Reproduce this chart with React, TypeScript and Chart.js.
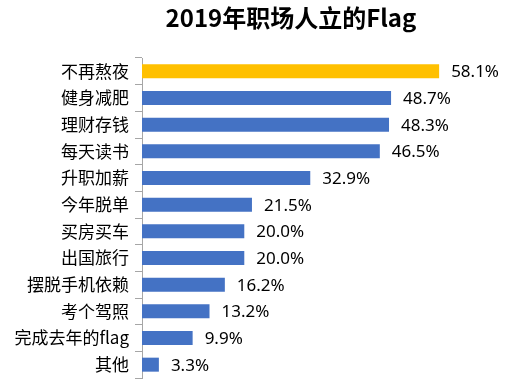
import React, { useEffect, useRef } from "react";
import { Chart, registerables } from "chart.js";

Chart.register(...registerables);

const TITLE = "2019年职场人立的Flag";
const categories = [
  "不再熬夜",
  "健身减肥",
  "理财存钱",
  "每天读书",
  "升职加薪",
  "今年脱单",
  "买房买车",
  "出国旅行",
  "摆脱手机依赖",
  "考个驾照",
  "完成去年的flag",
  "其他",
];
const values = [58.1, 48.7, 48.3, 46.5, 32.9, 21.5, 20.0, 20.0, 16.2, 13.2, 9.9, 3.3];
const barColors = values.map((_, i) => (i === 0 ? "#FFC000" : "#4472C4"));

const valueLabelPlugin = {
  id: "valueLabels",
  afterDatasetsDraw(chart: any) {
    const { ctx } = chart;
    const meta = chart.getDatasetMeta(0);
    ctx.save();
    ctx.font = '17px "Noto Sans", sans-serif';
    ctx.fillStyle = "#000";
    ctx.textAlign = "left";
    ctx.textBaseline = "middle";
    meta.data.forEach((bar: any, i: number) => {
      ctx.fillText(values[i].toFixed(1) + "%", bar.x + 12, bar.y + 1);
    });
    ctx.restore();
  },
};

const titlePlugin = {
  id: "customTitle",
  afterDraw(chart: any) {
    const { ctx } = chart;
    ctx.save();
    ctx.font = 'bold 24px "Noto Sans CJK SC", sans-serif';
    ctx.fillStyle = "#000";
    ctx.textAlign = "center";
    ctx.textBaseline = "middle";
    ctx.fillText(TITLE, chart.width * 0.575, 18);
    ctx.restore();
  },
};

export default function App() {
  const ref = useRef<HTMLCanvasElement>(null);
  useEffect(() => {
    const chart = new Chart(ref.current!, {
      type: "bar",
      data: {
        labels: categories,
        datasets: [
          {
            data: values,
            backgroundColor: barColors,
            barPercentage: 1,
            categoryPercentage: 0.525,
          },
        ],
      },
      options: {
        indexAxis: "y",
        animation: false,
        responsive: false,
        layout: { padding: { top: 58, bottom: 7, right: 6, left: 0 } },
        plugins: {
          legend: { display: false },
          tooltip: { enabled: false },
          title: { display: false },
        },
        scales: {
          x: {
            display: false,
            min: 0,
            max: 70,
          },
          y: {
            afterFit: (scale: any) => {
              scale.width = 142;
              scale.paddingTop = 0;
              scale.paddingBottom = 0;
            },
            grid: {
              display: true,
              drawOnChartArea: false,
              drawTicks: true,
              tickLength: 7,
              offset: true,
              color: "#A6A6A6",
            },
            border: { display: true, color: "#A6A6A6" },
            ticks: {
              padding: 6,
              color: "#000",
              font: { family: '"Noto Sans CJK SC", sans-serif', size: 17 },
            },
          },
        },
      },
      plugins: [valueLabelPlugin, titlePlugin],
    });
    return () => chart.destroy();
  }, []);
  return (
    <div style={{ position: "fixed", left: 0, top: 0, width: 506, height: 385, background: "#fff" }}>
      <canvas ref={ref} width={506} height={385} />
    </div>
  );
}
